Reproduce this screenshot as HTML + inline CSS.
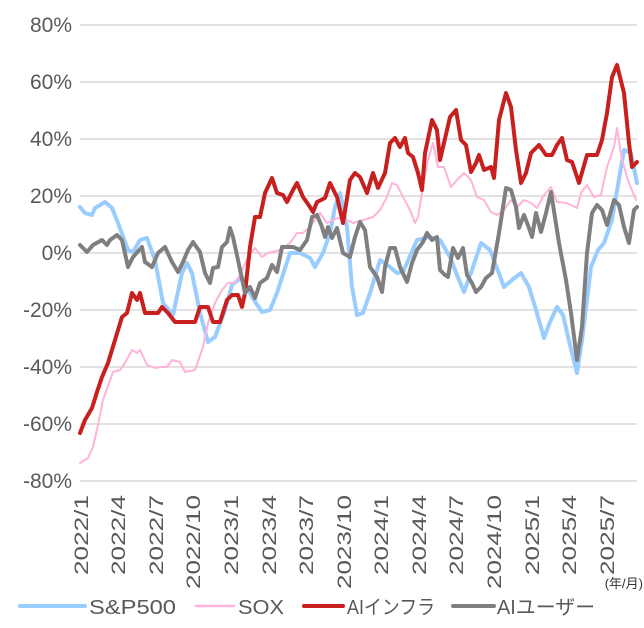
<!DOCTYPE html>
<html><head><meta charset="utf-8"><style>
html,body{margin:0;padding:0;background:#fff;}
svg{display:block;font-family:"Liberation Sans","Noto Sans CJK JP",sans-serif;}
</style></head><body>
<svg width="644" height="628" viewBox="0 0 644 628" xmlns="http://www.w3.org/2000/svg">
<g stroke="#d9d9d9" stroke-width="1.5">
<line x1="80" y1="25" x2="637" y2="25"/><line x1="80" y1="82" x2="637" y2="82"/>
<line x1="80" y1="139" x2="637" y2="139"/><line x1="80" y1="196" x2="637" y2="196"/>
<line x1="80" y1="253" x2="637" y2="253"/><line x1="80" y1="310" x2="637" y2="310"/>
<line x1="80" y1="367" x2="637" y2="367"/><line x1="80" y1="424" x2="637" y2="424"/>
<line x1="80" y1="481" x2="637" y2="481"/>
</g>
<g fill="#595959" font-size="21" text-anchor="end">
<text x="72" y="32">80%</text><text x="72" y="89">60%</text><text x="72" y="146">40%</text>
<text x="72" y="203">20%</text><text x="72" y="260">0%</text><text x="72" y="317">-20%</text>
<text x="72" y="374">-40%</text><text x="72" y="431">-60%</text><text x="72" y="488">-80%</text>
</g>
<g fill="#595959" font-size="19" text-anchor="end">
<text transform="translate(88,495) rotate(-90)" textLength="80" lengthAdjust="spacingAndGlyphs">2022/1</text>
<text transform="translate(125,495) rotate(-90)" textLength="80" lengthAdjust="spacingAndGlyphs">2022/4</text>
<text transform="translate(163,495) rotate(-90)" textLength="80" lengthAdjust="spacingAndGlyphs">2022/7</text>
<text transform="translate(200,495) rotate(-90)" textLength="94" lengthAdjust="spacingAndGlyphs">2022/10</text>
<text transform="translate(238,495) rotate(-90)" textLength="80" lengthAdjust="spacingAndGlyphs">2023/1</text>
<text transform="translate(276,495) rotate(-90)" textLength="80" lengthAdjust="spacingAndGlyphs">2023/4</text>
<text transform="translate(313,495) rotate(-90)" textLength="80" lengthAdjust="spacingAndGlyphs">2023/7</text>
<text transform="translate(351,495) rotate(-90)" textLength="94" lengthAdjust="spacingAndGlyphs">2023/10</text>
<text transform="translate(388,495) rotate(-90)" textLength="80" lengthAdjust="spacingAndGlyphs">2024/1</text>
<text transform="translate(426,495) rotate(-90)" textLength="80" lengthAdjust="spacingAndGlyphs">2024/4</text>
<text transform="translate(463,495) rotate(-90)" textLength="80" lengthAdjust="spacingAndGlyphs">2024/7</text>
<text transform="translate(501,495) rotate(-90)" textLength="94" lengthAdjust="spacingAndGlyphs">2024/10</text>
<text transform="translate(539,495) rotate(-90)" textLength="80" lengthAdjust="spacingAndGlyphs">2025/1</text>
<text transform="translate(576,495) rotate(-90)" textLength="80" lengthAdjust="spacingAndGlyphs">2025/4</text>
<text transform="translate(614,495) rotate(-90)" textLength="80" lengthAdjust="spacingAndGlyphs">2025/7</text>
</g>
<text x="643" y="588" font-size="13" fill="#333" text-anchor="end">(年/月)</text>
<g fill="none" stroke-linejoin="round" stroke-linecap="round">
<polyline stroke="#99ccff" stroke-width="4" points="80,207 85,213 92,215 95,208 105,202 112,208 118,223 128,250 133,252 140,240 147,238 155,260 163,303 173,315 182,273 187,263 192,273 200,313 208,342 215,337 225,310 232,285 242,277 252,297 262,312 270,310 277,293 290,253 300,253 310,258 315,267 323,253 330,233 335,207 340,193 347,227 352,287 357,315 363,313 370,293 380,260 390,267 397,273 403,272 417,240 430,237 440,240 450,257 457,275 464,292 472,270 481,243 490,250 497,268 504,287 512,280 521,273 529,287 536,310 544,338 550,322 557,307 563,315 570,345 577,373 582,340 587,300 591,267 598,250 604,243 612,220 618,185 624,150 631,153 637,183"/>
<polyline stroke="#ffb3d9" stroke-width="2" points="80,463 88,458 93,447 98,425 103,400 113,372 120,370 125,363 132,350 137,353 140,350 147,365 155,368 160,367 167,367 172,360 180,362 185,372 195,370 203,347 208,323 215,303 222,290 228,283 235,283 240,275 248,257 255,248 262,257 268,253 280,250 290,243 297,233 303,233 310,227 320,213 327,223 337,218 347,220 353,223 363,220 373,217 380,210 387,197 392,183 397,185 403,197 410,210 415,223 418,217 423,187 428,160 433,143 438,167 444,167 451,187 457,180 464,173 471,180 477,197 484,200 491,212 497,215 504,210 511,200 517,207 524,200 531,203 537,208 544,195 551,187 557,202 567,203 577,208 581,193 587,185 594,197 601,195 607,167 614,147 617,128 622,160 629,183 636,200"/>
<polyline stroke="#c8201e" stroke-width="4" points="80,433 85,420 92,408 97,392 102,377 108,363 115,340 122,317 127,313 132,293 137,300 140,293 145,313 158,313 162,307 168,313 175,322 195,322 200,307 208,307 213,322 220,322 227,300 232,295 238,295 242,307 245,293 250,247 255,217 260,217 265,193 272,178 277,193 283,195 287,202 293,190 297,183 303,197 310,207 313,212 317,202 325,198 330,183 337,197 343,223 350,180 355,173 360,177 367,193 373,173 378,188 385,173 390,143 395,138 400,147 405,138 408,153 413,157 418,173 422,190 425,153 432,120 437,130 440,160 447,130 450,117 456,110 461,140 466,145 471,172 476,163 479,155 484,170 491,167 494,178 499,120 506,93 511,107 516,150 521,183 526,173 531,153 539,145 546,155 552,155 557,145 562,138 567,160 572,162 579,183 587,155 597,155 602,140 607,113 612,77 617,65 624,93 629,143 632,167 637,162"/>
<polyline stroke="#7f7f7f" stroke-width="4" points="80,245 87,252 93,245 102,240 107,245 110,240 117,235 122,240 128,267 133,257 142,247 145,262 152,267 158,253 165,247 172,262 178,272 183,262 188,250 193,242 200,252 205,273 210,283 213,268 218,267 222,247 227,242 230,228 233,237 238,260 245,293 250,287 255,298 260,283 267,278 272,265 277,272 282,247 293,247 300,250 307,240 312,217 317,215 322,227 325,237 328,227 332,238 337,228 343,253 350,257 355,237 360,222 365,230 370,267 377,277 382,292 385,267 390,248 395,248 400,267 407,282 412,263 417,250 423,242 427,233 432,240 437,237 440,270 445,275 448,277 453,248 458,258 463,248 467,275 472,283 476,292 481,287 486,278 492,273 499,233 506,188 511,190 516,207 519,228 524,215 529,228 532,237 536,213 541,232 546,213 551,192 559,243 566,280 571,313 577,360 582,327 587,253 592,213 597,205 602,210 607,225 614,200 619,205 624,227 629,243 634,210 637,207"/>
</g>
<g stroke-width="4" stroke-linecap="round">
<line x1="20" y1="606" x2="85" y2="606" stroke="#99ccff"/>
<line x1="196" y1="606" x2="234" y2="606" stroke="#ffb3d9" stroke-width="2.5"/>
<line x1="304" y1="606" x2="343" y2="606" stroke="#c8201e"/>
<line x1="453" y1="606" x2="494" y2="606" stroke="#7f7f7f"/>
</g>
<g fill="#595959" font-size="20">
<text x="89" y="614" textLength="87" lengthAdjust="spacingAndGlyphs">S&amp;P500</text>
<text x="238" y="614" textLength="46" lengthAdjust="spacingAndGlyphs">SOX</text>
<text x="347" y="614" textLength="88" lengthAdjust="spacingAndGlyphs">AIインフラ</text>
<text x="497" y="614" textLength="98" lengthAdjust="spacingAndGlyphs">AIユーザー</text>
</g>
</svg>
</body></html>
